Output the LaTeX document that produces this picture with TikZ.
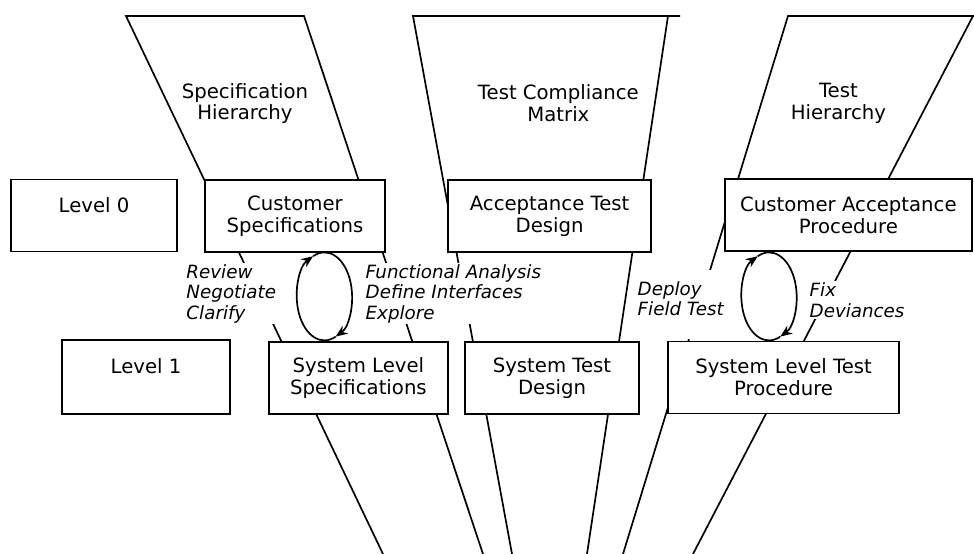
\documentclass[tikz,border=0pt]{standalone}
\usepackage{fontspec}
\setmainfont{DejaVu Sans}
\usetikzlibrary{arrows.meta, calc}

\begin{document}
\begin{tikzpicture}[
    block/.style={draw, line width=1.2pt, fill=white, minimum height=1.8cm, inner sep=0pt, align=center, font=\fontsize{14}{15.6}\selectfont},
    title/.style={align=center, font=\fontsize{14}{15.6}\selectfont},
    note/.style={fill=white, inner sep=1pt, anchor=west, align=left, font=\itshape\fontsize{13}{14.6}\selectfont},
    funnel/.style={line width=1.2pt},
    arrow/.style={-{Stealth[length=3mm, width=2.4mm]}, line width=1.2pt}
]
    \useasboundingbox (0,0) rectangle (24.35,-13.85);

    % Hierarchy funnels
    \draw[funnel] (9.575,-13.85) -- (3.15,-0.4) -- (7.6,-0.4) -- (12.075,-13.85);
    \draw[funnel] (12.8,-13.85) -- (10.325,-0.4) -- (17.0,-0.4);
    \draw[funnel] (16.7,-0.4) -- (14.675,-13.85);
    \draw[funnel] (15.575,-13.85) -- (19.7,-0.4) -- (24.35,-0.4);
    \draw[funnel] (24.325,-0.4) -- (17.325,-13.85);

    \node[title] (spechier) at (6.125,-2.59) {Specification\\Hierarchy};
    \node[title] (tcm) at (13.96,-2.59) {Test Compliance\\Matrix};
    \node[title] (testhier) at (20.96,-2.59) {Test\\Hierarchy};

    % Level 0
    \node[block, minimum width=4.15cm] (lvlzero) at (2.35,-5.39) {Level 0\\~};
    \node[block, minimum width=4.5cm] (custspec) at (7.375,-5.4) {Customer\\Specifications};
    \node[block, minimum width=5.075cm] (accdesign) at (13.74,-5.4) {Acceptance Test\\Design};
    \node[block, minimum width=6.175cm] (custproc) at (21.21,-5.375) {Customer Acceptance\\Procedure};

    % Level 1
    \node[block, minimum width=4.2cm, minimum height=1.85cm] (lvlone) at (3.65,-9.425) {Level 1\\~};
    \node[block, minimum width=4.475cm] (sysspec) at (8.96,-9.45) {System Level\\Specifications};
    \node[block, minimum width=4.35cm] (sysdesign) at (13.8,-9.45) {System Test\\Design};
    \node[block, minimum width=5.775cm] (sysproc) at (19.59,-9.44) {System Level Test\\Procedure};

    % Activities
    \node[note] (review) at (4.62,-7.34) {Review\\Negotiate\\Clarify};
    \node[note] (funcana) at (9.1,-7.34) {Functional Analysis\\Define Interfaces\\Explore};
    \node[note, anchor=north west] (deploy) at (15.9,-6.75) {\rule{0pt}{0.59cm}Deploy\\Field Test\rule[-0.55cm]{0pt}{0.55cm}};
    \node[note] (fixdev) at (20.2,-7.5) {Fix\\Deviances};

    % Iteration loops
    \coordinate (specloop) at (8.11,-7.41);
    \coordinate (testloop) at (19.225,-7.41);
    \draw[arrow] (specloop) ++(294:0.69 and 1.1) arc[start angle=294, end angle=114, x radius=0.69, y radius=1.1];
    \draw[arrow] (specloop) ++(114:0.69 and 1.1) arc[start angle=114, end angle=-66, x radius=0.69, y radius=1.1];
    \draw[arrow] (testloop) ++(294:0.69 and 1.1) arc[start angle=294, end angle=114, x radius=0.69, y radius=1.1];
    \draw[arrow] (testloop) ++(114:0.69 and 1.1) arc[start angle=114, end angle=-66, x radius=0.69, y radius=1.1];
\end{tikzpicture}
\end{document}
